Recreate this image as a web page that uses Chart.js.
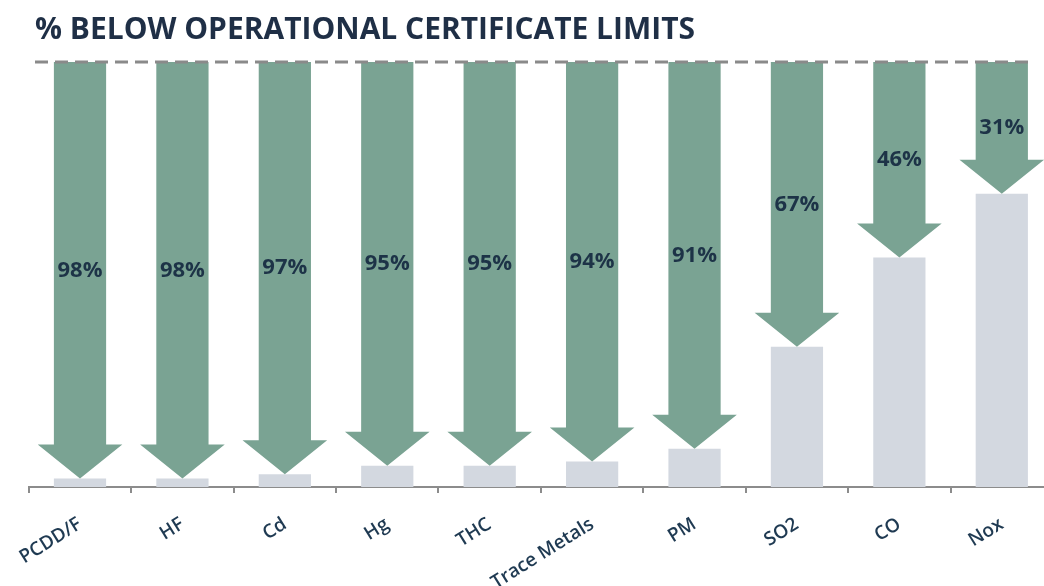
<!DOCTYPE html>
<html>
<head>
<meta charset="utf-8">
<script src="https://cdn.jsdelivr.net/npm/chart.js@4"></script>
<style>
    html, body { margin: 0; padding: 0; background: #ffffff; overflow: hidden; }
    #wrap { position: relative; width: 1056px; height: 586px; }
</style>
</head>
<body>
<div id="wrap"><canvas id="limitsChart"></canvas></div>
<script>
// Emission species and how far each sits below its certificate limit (%)
const pollutants = ['PCDD/F', 'HF', 'Cd', 'Hg', 'THC', 'Trace Metals', 'PM', 'SO2', 'CO', 'Nox'];
const belowLimit = [98, 98, 97, 95, 95, 94, 91, 67, 46, 31];
const limitLevel = 100;

// what is left of the limit after the reduction
const remaining = belowLimit.map(v => limitLevel - v);

const titleText = '% BELOW OPERATIONAL CERTIFICATE LIMITS';

const GREEN = '#7aa393';
const GREY_BAR = '#d3d8e0';
const NAVY = '#1d3347';

// draws the green down-arrows, their labels and the dashed limit line
const arrowPlugin = {
    id: 'arrows',
    afterDatasetsDraw(chart) {
        const ctx = chart.ctx;
        const meta = chart.getDatasetMeta(1);
        ctx.save();
        meta.data.forEach((bar, i) => {
            const p = bar.getProps(['x', 'y', 'base', 'width'], true);
            const half = p.width / 2;
            const headHalf = half + p.width * 0.31;
            const headTop = p.base - p.width * 0.65;

            ctx.fillStyle = GREEN;
            ctx.beginPath();
            ctx.moveTo(p.x - half, p.y);
            ctx.lineTo(p.x + half, p.y);
            ctx.lineTo(p.x + half, headTop);
            ctx.lineTo(p.x + headHalf, headTop);
            ctx.lineTo(p.x, p.base);
            ctx.lineTo(p.x - headHalf, headTop);
            ctx.lineTo(p.x - half, headTop);
            ctx.closePath();
            ctx.fill();

            ctx.fillStyle = NAVY;
            ctx.font = 'bold 22px "Open Sans"';
            ctx.textAlign = 'center';
            ctx.textBaseline = 'middle';
            ctx.fillText(belowLimit[i] + '%', p.x, (p.y + p.base) / 2);
        });

        // limit line
        const yLimit = chart.scales.y.getPixelForValue(limitLevel);
        ctx.strokeStyle = '#8a8a8a';
        ctx.lineWidth = 3;
        ctx.setLineDash([13, 7]);
        ctx.beginPath();
        ctx.moveTo(35, yLimit);
        ctx.lineTo(1034, yLimit);
        ctx.stroke();
        ctx.restore();
    },
    afterDraw(chart) {
        const ctx = chart.ctx;
        ctx.save();
        ctx.fillStyle = '#1f2f46';
        ctx.font = 'bold 30px "Open Sans"';
        ctx.textAlign = 'left';
        ctx.textBaseline = 'alphabetic';
        ctx.fillText(titleText, 35, 39, 660);
        ctx.restore();
    }
};

new Chart(document.getElementById('limitsChart'), {
    type: 'bar',
    data: {
        labels: pollutants,
        datasets: [{
            label: 'Remaining',
            data: remaining,
            backgroundColor: GREY_BAR,
            barPercentage: 0.51,
            categoryPercentage: 1
        }, {
            label: 'Below limit',
            data: belowLimit,
            backgroundColor: 'rgba(0,0,0,0)',
            barPercentage: 0.51,
            categoryPercentage: 1
        }]
    },
    options: {
        responsive: true,
        maintainAspectRatio: false,
        animation: false,
        layout: { padding: { left: 28, right: 3, top: 62, bottom: 0 } },
        plugins: {
            legend: { display: false },
            title: { display: false },
            tooltip: { enabled: false }
        },
        scales: {
            x: {
                stacked: true,
                offset: true,
                grid: {
                    offset: true,
                    drawOnChartArea: false,
                    drawTicks: true,
                    tickLength: 6,
                    color: '#8c8c8c',
                    lineWidth: 2
                },
                border: { color: '#8c8c8c', width: 2 },
                ticks: {
                    minRotation: 32,
                    maxRotation: 32,
                    padding: 20,
                    color: '#1f3a52',
                    font: { family: '"Open Sans"', size: 19, weight: '600' }
                },
                afterFit(scale) { scale.height = 99; }
            },
            y: {
                stacked: true,
                display: false,
                min: 0,
                max: limitLevel
            }
        }
    },
    plugins: [arrowPlugin]
});
</script>
</body>
</html>
